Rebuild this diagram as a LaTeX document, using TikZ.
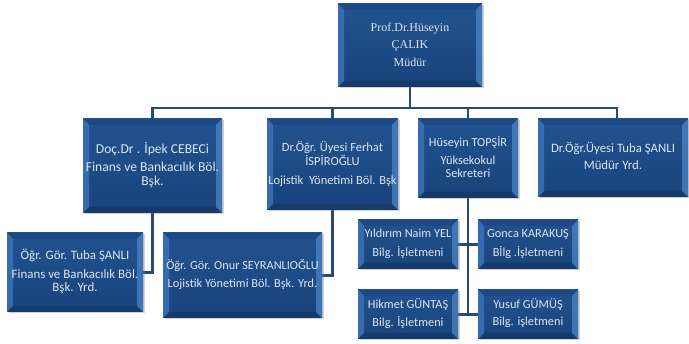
\documentclass[tikz,border=0pt]{standalone}
\usepackage{fontspec}
\setmainfont{Carlito}
\newfontfamily\serifb{Liberation Serif}
\usetikzlibrary{shadows,backgrounds}
\definecolor{boxtop}{HTML}{22538F}
\definecolor{boxbot}{HTML}{19437C}
\definecolor{bevL}{HTML}{3B72B6}
\definecolor{bevR}{HTML}{4C84C6}
\definecolor{bevT}{HTML}{1D4A86}
\definecolor{bevB}{HTML}{163B6B}
\definecolor{txt}{HTML}{DCE4EF}
\definecolor{linec}{HTML}{27497A}
\newcommand{\ctext}[1]{\makebox[0pt]{\begin{tabular}{@{}c@{}}#1\end{tabular}}}
\begin{document}
\begin{tikzpicture}[x=1pt,y=-1pt,
  bx/.style={top color=boxtop,bottom color=boxbot,text=txt,inner sep=0pt,
    font=\fontsize{12.3}{13}\selectfont,
    drop shadow={shadow xshift=1.5pt,shadow yshift=-1.5pt,opacity=0.35},
    path picture={
      \fill[bevT] (path picture bounding box.north west) -- (path picture bounding box.north east)
        -- ([xshift=-6pt,yshift=-6pt]path picture bounding box.north east)
        -- ([xshift=6pt,yshift=-6pt]path picture bounding box.north west) -- cycle;
      \fill[bevB] (path picture bounding box.south west) -- (path picture bounding box.south east)
        -- ([xshift=-6pt,yshift=6pt]path picture bounding box.south east)
        -- ([xshift=6pt,yshift=6pt]path picture bounding box.south west) -- cycle;
      \fill[bevL,opacity=0.85] (path picture bounding box.north west) -- (path picture bounding box.south west)
        -- ([xshift=6pt,yshift=6pt]path picture bounding box.south west)
        -- ([xshift=6pt,yshift=-6pt]path picture bounding box.north west) -- cycle;
      \fill[bevR,opacity=0.75] (path picture bounding box.north east) -- (path picture bounding box.south east)
        -- ([xshift=-6pt,yshift=6pt]path picture bounding box.south east)
        -- ([xshift=-6pt,yshift=-6pt]path picture bounding box.north east) -- cycle;
    }},
  conn/.style={draw=linec,line width=2.4pt,line cap=rect}
]
\useasboundingbox (0,0) rectangle (689,344);

\node[bx,font=\serifb\fontsize{12}{17.5}\selectfont,minimum width=144pt,minimum height=83pt] (top) at (410,45.5)
  {\ctext{Prof.Dr.Hüseyin\\ÇALIK\\Müdür}};

\node[bx,font=\fontsize{13.6}{14}\selectfont,minimum width=139pt,minimum height=94pt] (b1) at (152.5,166)
  {\ctext{Doç.Dr . İpek CEBECi\\[4pt]Finans ve Bankacılık Böl.\\Bşk.}};
\node[bx,font=\fontsize{12.5}{13}\selectfont,minimum width=131pt,minimum height=91pt] (b2) at (332.5,164.5)
  {\ctext{Dr.Öğr. Üyesi Ferhat\\İSPİROĞLU\\[6pt]Lojistik\ \ Yönetimi Böl. Bşk}};
\node[bx,minimum width=100pt,minimum height=79pt] (b3) at (468,158.5)
  {\ctext{Hüseyin TOPŞİR\\[5pt]Yüksekokul\\Sekreteri}};
\node[bx,font=\fontsize{12.8}{13}\selectfont,minimum width=150pt,minimum height=78pt] (b4) at (613,158)
  {\ctext{Dr.Öğr.Üyesi Tuba ŞANLI\\[4pt]Müdür Yrd.}};

\node[bx,font=\fontsize{12.9}{13}\selectfont,minimum width=136pt,minimum height=79pt] (b5) at (75,272.5)
  {\ctext{Öğr. Gör. Tuba ŞANLI\\[6pt]Finans ve Bankacılık Böl.\\Bşk. Yrd.}};
\node[bx,minimum width=159pt,minimum height=85pt] (b6) at (242.5,275.5)
  {\ctext{Öğr. Gör. Onur SEYRANLIOĞLU\\[5pt]Lojistik Yönetimi Böl. Bşk. Yrd.}};

\node[bx,minimum width=100pt,minimum height=49pt] (b7) at (408,244.5)
  {\ctext{Yıldırım Naim YEL\\[5pt]Bilg. İşletmeni}};
\node[bx,minimum width=100pt,minimum height=49pt] (b8) at (528,244.5)
  {\ctext{Gonca KARAKUŞ\\[5pt]Bİlg .İşletmeni}};
\node[bx,minimum width=100pt,minimum height=49pt] (b9) at (408,314.5)
  {\ctext{Hikmet GÜNTAŞ\\[4pt]Bilg. İşletmeni}};
\node[bx,minimum width=100pt,minimum height=49pt] (b10) at (528,314.5)
  {\ctext{Yusuf GÜMÜŞ\\[4pt]Bilg. işletmeni}};

\coordinate (busL) at (152.5,108);
\coordinate (busR) at (617,108);

\begin{pgfonlayer}{background}
\fill[white] (0,0) rectangle (689,344);
\draw[conn] (top.south) -- (top.south |- busL);
\draw[conn] (busL) -- (busR);
\draw[conn] (b1.north) -- (b1.north |- busL);
\draw[conn] (b2.north) -- (b2.north |- busL);
\draw[conn] (b3.north) -- (b3.north |- busL);
\draw[conn] (busR) -- (busR |- b4.north);
\draw[conn] (b1.south) |- (b5.east);
\draw[conn] (b2.south) |- (b6.east);
\draw[conn] (b3.south) -- (b3.south |- b9.east);
\draw[conn] (b7.east) -- (b8.west);
\draw[conn] (b9.east) -- (b10.west);
\end{pgfonlayer}
\end{tikzpicture}
\end{document}
